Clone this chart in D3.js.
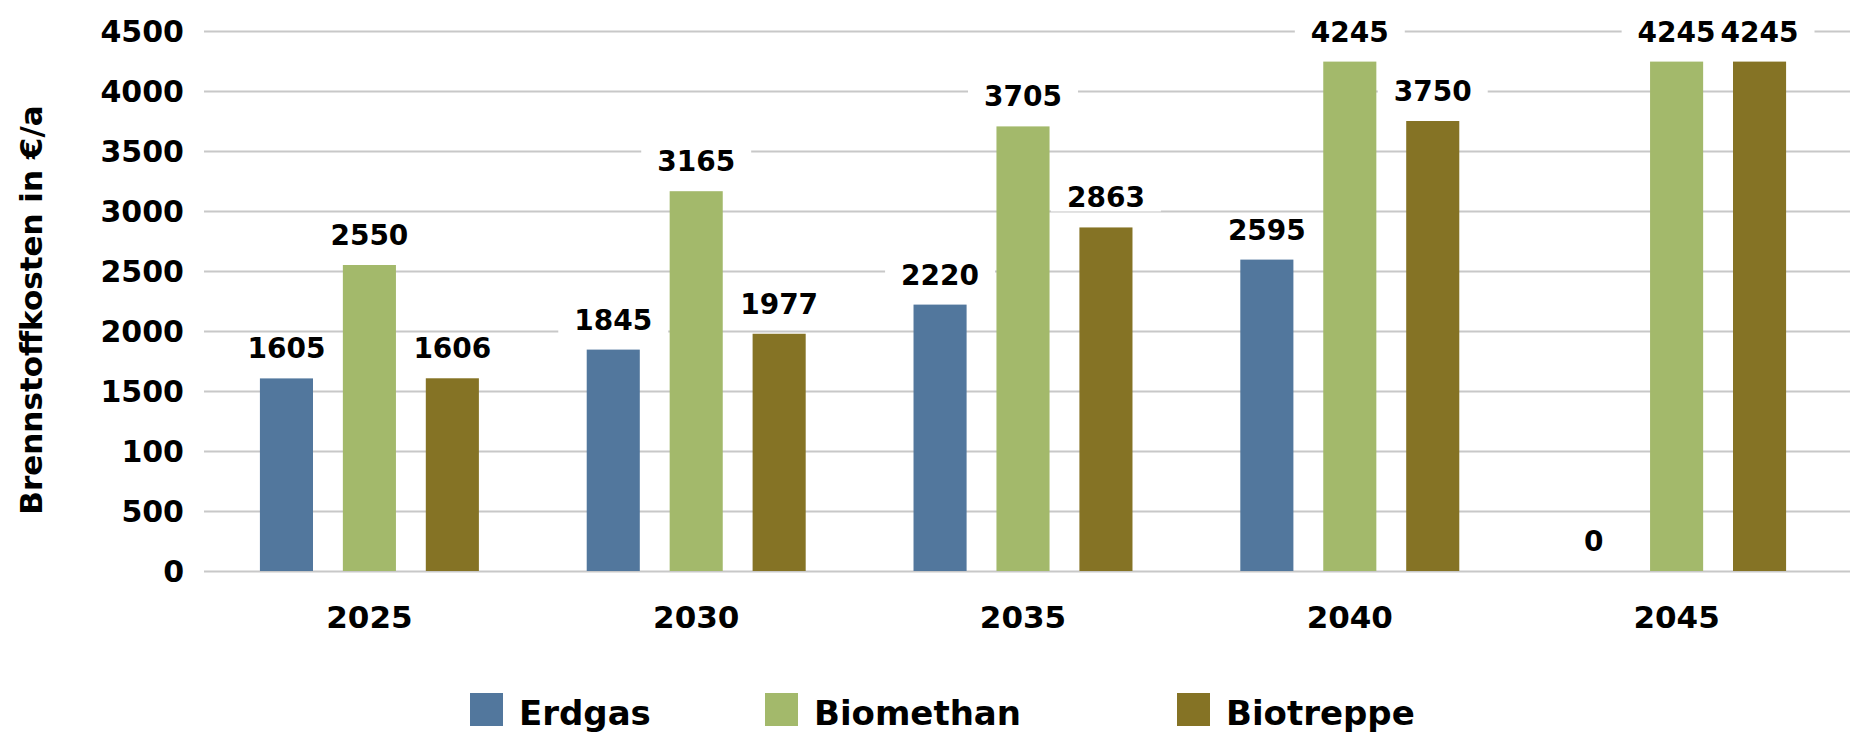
<!DOCTYPE html>
<html>
<head>
<meta charset="utf-8">
<script src="https://cdnjs.cloudflare.com/ajax/libs/d3/7.8.5/d3.min.js"></script>
<style>
    body { margin: 0; background: #fff; }
    text { font-family: 'DejaVu Sans', sans-serif; font-weight: bold; fill: #000; }
</style>
</head>
<body>
<div id="vis"></div>
<script>
// Data
let years = ['2025', '2030', '2035', '2040', '2045'];
let series = ['Erdgas', 'Biomethan', 'Biotreppe'];
let erdgas = [1605, 1845, 2220, 2595, 0];
let biomethan = [2550, 3165, 3705, 4245, 4245];
let biotreppe = [1606, 1977, 2863, 3750, 4245];
let yTicks = [0, 500, 1000, 1500, 2000, 2500, 3000, 3500, 4000, 4500];
let yTickLabels = ['0', '500', '100', '1500', '2000', '2500', '3000', '3500', '4000', '4500'];
let colors = ['#52779d', '#a3b96b', '#857325'];

// Build rows for the data join
let values = [erdgas, biomethan, biotreppe];
let rows = years.map((yr, i) => ({
    year: yr,
    bars: series.map((s, j) => ({ key: s, value: values[j][i] }))
}));

let width = 1850, height = 733;
let plot = { left: 204, right: 1850, top: 31, bottom: 571 };

let svg = d3.select('#vis')
    .append('svg')
    .attr('width', width)
    .attr('height', height);

// Scales
let x0 = d3.scaleBand()
    .domain(years)
    .range([206, 1840]);

let x1 = d3.scaleBand()
    .domain(series)
    .range([0, x0.bandwidth()])
    .paddingInner(0.36)
    .paddingOuter(0.65);

let yScale = d3.scaleLinear()
    .domain([0, 4500])
    .range([plot.bottom, plot.top]);

let color = d3.scaleOrdinal().domain(series).range(colors);

// Y axis with gridlines across the plot
let yAxis = d3.axisLeft(yScale)
    .tickValues(yTicks)
    .tickFormat((d, i) => yTickLabels[i])
    .tickSize(-(plot.right - plot.left))
    .tickPadding(20);

let yAxisG = svg.append('g')
    .attr('transform', `translate(${plot.left}, 0)`)
    .call(yAxis);
yAxisG.select('.domain').remove();
yAxisG.selectAll('.tick line')
    .attr('stroke', '#c8c8c8')
    .attr('stroke-width', 2);
yAxisG.selectAll('.tick text')
    .attr('font-size', 30)
    .attr('dy', '0.36em')
    .style('font-family', "'DejaVu Sans', sans-serif");

// Category axis
let xAxis = d3.axisBottom(x0).tickSize(0).tickPadding(35);
let xAxisG = svg.append('g')
    .attr('transform', `translate(0, ${plot.bottom})`)
    .call(xAxis);
xAxisG.select('.domain').remove();
xAxisG.selectAll('.tick text')
    .attr('font-size', 31)
    .style('font-family', "'DejaVu Sans', sans-serif");

// Axis title
svg.append('text')
    .attr('transform', 'translate(42, 310) rotate(-90)')
    .attr('text-anchor', 'middle')
    .attr('font-size', 31)
    .text('Brennstoffkosten in €/a');

// Groups
let groups = svg.append('g')
    .selectAll('g')
    .data(rows)
    .join('g')
    .attr('transform', d => `translate(${x0(d.year)}, 0)`);

// white boxes behind value labels (cut the gridlines)
let labelBg = groups.selectAll('rect.bg')
    .data(d => d.bars)
    .join('rect')
    .attr('class', 'bg')
    .attr('fill', '#fff');

groups.selectAll('rect.bar')
    .data(d => d.bars)
    .join('rect')
    .attr('class', 'bar')
    .attr('x', d => x1(d.key))
    .attr('width', x1.bandwidth())
    .attr('y', d => yScale(d.value))
    .attr('height', d => yScale(0) - yScale(d.value))
    .attr('fill', d => color(d.key));

let labels = groups.selectAll('text.val')
    .data(d => d.bars)
    .join('text')
    .attr('class', 'val')
    .attr('x', d => x1(d.key) + x1.bandwidth() / 2)
    .attr('y', d => yScale(d.value) - 20)
    .attr('text-anchor', 'middle')
    .attr('font-size', 28)
    .text(d => d.value);

// size the white boxes from the label text
labels.each(function(d) {
    d.bb = this.getBBox();
});
labelBg
    .attr('x', d => d.bb.x - 16)
    .attr('y', d => d.bb.y + 3)
    .attr('width', d => d.bb.width + 32)
    .attr('height', d => d.bb.height - 6);

// Legend
let legendX = [470, 765, 1177];
let legend = svg.append('g')
    .selectAll('g')
    .data(series)
    .join('g')
    .attr('transform', (d, i) => `translate(${legendX[i]}, 693)`);

legend.append('rect')
    .attr('width', 33)
    .attr('height', 33)
    .attr('fill', d => color(d));

legend.append('text')
    .attr('x', 49)
    .attr('y', 32)
    .attr('font-size', 34)
    .text(d => d);
</script>
</body>
</html>
